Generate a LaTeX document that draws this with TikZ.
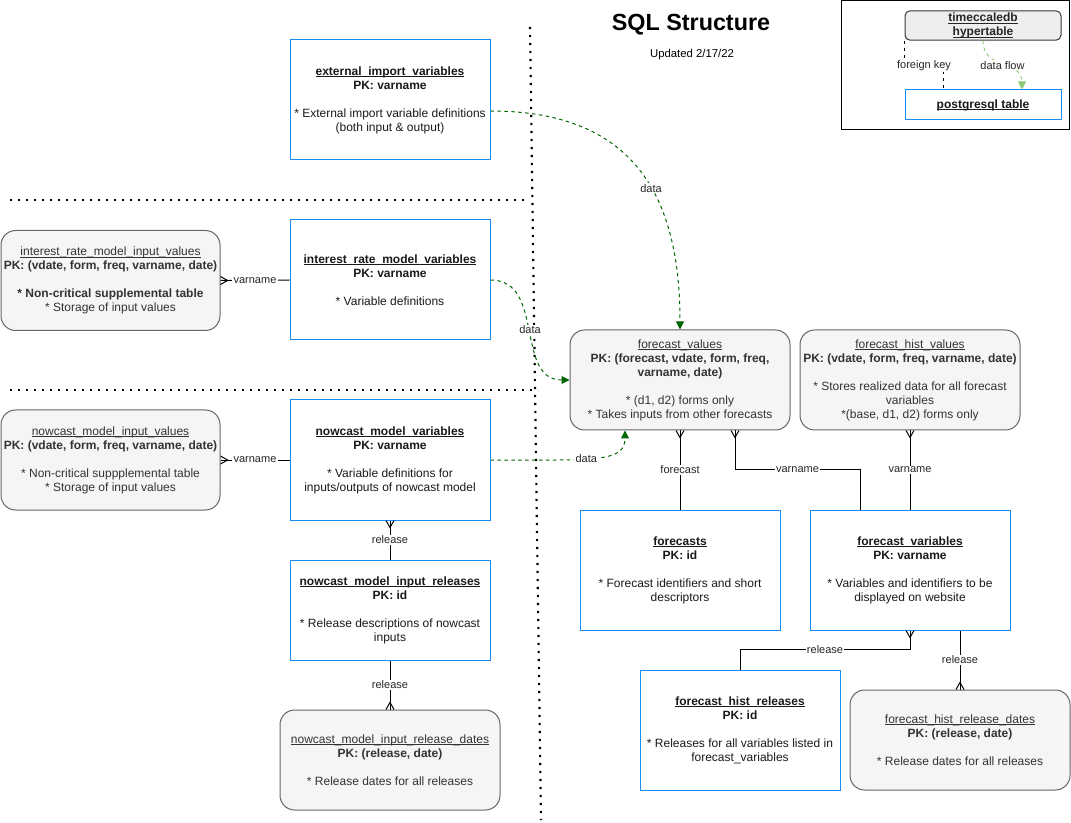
\documentclass[tikz,border=0pt]{standalone}
\usepackage{fontspec}
\setmainfont{Liberation Sans}
\usetikzlibrary{arrows.meta,calc}
\definecolor{boxblue}{HTML}{1A8CF2}
\definecolor{grayfill}{HTML}{F5F5F5}
\definecolor{grayline}{HTML}{666666}
\definecolor{graytext}{HTML}{333333}
\definecolor{dgreen}{HTML}{006600}
\definecolor{lgreen}{HTML}{8CC878}
\definecolor{hypfill}{HTML}{EEEEEE}
\definecolor{hypline}{HTML}{36393D}
\newsavebox\tnbox
\newcommand\tname[1]{\sbox\tnbox{#1}\rlap{\rule[-1.4pt]{\wd\tnbox}{0.55pt}}\usebox\tnbox}
\newcommand\fsz{\fontsize{9pt}{10.5pt}\selectfont}
\newcommand\crowdown[1]{\draw[conn] (#1) ++(-4,0) -- ++(4,7) -- ++(4,-7);}
\newcommand\crowup[1]{\draw[conn] (#1) ++(-4,0) -- ++(4,-7) -- ++(4,7);}
\newcommand\crowright[1]{\draw[conn] (#1) ++(0,-4) -- ++(7,4) -- ++(-7,4);}
\begin{document}
\begin{tikzpicture}[x=0.75pt,y=-0.75pt,
  bluebox/.style={draw=boxblue, line width=0.75pt, align=center, font=\fsz, text=black!90, inner sep=0pt, minimum width=150pt, minimum height=90pt},
  graybox/.style={draw=grayline, fill=grayfill, line width=0.75pt, rounded corners=11pt, align=center, font=\fsz, text=graytext, inner sep=0pt, minimum width=165pt, minimum height=75pt},
  conn/.style={draw=black, line width=0.75pt},
  lbl/.style={fill=white, font=\fontsize{8.25pt}{9pt}\selectfont, text=black!85, inner sep=1pt},
  data/.style={draw=dgreen, line width=0.75pt, dash pattern=on 2.6pt off 2.6pt, -{Triangle[length=6pt,width=6pt]}},
  lightdata/.style={draw=lgreen, line width=0.75pt, dash pattern=on 2.6pt off 2.6pt, -{Triangle[length=6pt,width=6pt]}},
  fkey/.style={draw=black, line width=0.75pt, dash pattern=on 2.6pt off 2.6pt},
  dots/.style={draw=black, line width=1.6pt, dash pattern=on 1.6pt off 4.4pt}
]
\useasboundingbox (0,0) rectangle (1071,823);

% separators
\draw[dots] (530,27) -- (541,820);
\draw[dots] (10,200) -- (525,200);
\draw[dots] (10,390) -- (538,390);

% title
\node (title) at (691,25) {\fontsize{17.5pt}{20pt}\selectfont\bfseries SQL Structure};
\node (upd) at (692,55) {\fontsize{8.5pt}{10pt}\selectfont Updated 2/17/22};

% legend
\node[draw, line width=0.75pt, minimum width=171pt, minimum height=96.75pt, inner sep=0pt] (legend) at (955,65.5) {};
\node[draw=hypline, fill=hypfill, line width=0.75pt, rounded corners=3.75pt, minimum width=117pt, minimum height=22pt, inner sep=0pt, align=center, font=\fsz, text=black!85] (hyp) at (983,25.5) {\tname{\textbf{timeccaledb}}\\\tname{\textbf{hypertable}}};
\node[bluebox, minimum width=117pt, minimum height=22.5pt] (pg) at (983,105) {\tname{\textbf{postgresql table}}};
\draw[fkey] (hyp.south west) -- ++(0,25) -| node[lbl, pos=0.25]{foreign key} ($(pg.north west)+(39,0)$);
\draw[lightdata] (hyp.south) .. controls +(0,30) and +(0,-30) .. node[lbl, pos=0.5]{data flow} ($(pg.north)+(39,0)$);

% left column
\node[bluebox] (ext) at (390,100) {\tname{\textbf{external\_import\_variables}}\\\textbf{PK: varname}\\[10.5pt]* External import variable definitions\\(both input \& output)};
\node[bluebox] (irv) at (390,280) {\tname{\textbf{interest\_rate\_model\_variables}}\\\textbf{PK: varname}\\[10.5pt]* Variable definitions};
\node[bluebox] (ncv) at (390,460) {\tname{\textbf{nowcast\_model\_variables}}\\\textbf{PK: varname}\\[10.5pt]* Variable definitions for\\inputs/outputs of nowcast model};
\node[bluebox, minimum height=75pt] (ncr) at (390,610) {\tname{\textbf{nowcast\_model\_input\_releases}}\\\textbf{PK: id}\\[10.5pt]* Release descriptions of nowcast\\inputs};
\node[graybox] (ncrd) at (390,760) {\tname{nowcast\_model\_input\_release\_dates}\\\textbf{PK: (release, date)}\\[10.5pt]* Release dates for all releases};
\node[graybox, minimum width=164.25pt] (irin) at (110.5,280.5) {\tname{interest\_rate\_model\_input\_values}\\\textbf{PK: (vdate, form, freq, varname, date)}\\[10.5pt]\textbf{* Non-critical supplemental table}\\* Storage of input values};
\node[graybox, minimum width=164.25pt] (ncin) at (110.5,460) {\tname{nowcast\_model\_input\_values}\\\textbf{PK: (vdate, form, freq, varname, date)}\\[10.5pt]* Non-critical suppplemental table\\* Storage of input values};

% right part
\node[graybox] (fv) at (680,380) {\tname{forecast\_values}\\\textbf{PK: (forecast, vdate, form, freq,}\\\textbf{varname, date)}\\[10.5pt]* (d1, d2) forms only\\* Takes inputs from other forecasts};
\node[graybox] (fhv) at (910,380) {\tname{forecast\_hist\_values}\\\textbf{PK: (vdate, form, freq, varname, date)}\\[10.5pt]* Stores realized data for all forecast\\variables\\*(base, d1, d2) forms only};
\node[bluebox] (fc) at (680,570) {\tname{\textbf{forecasts}}\\\textbf{PK: id}\\[10.5pt]* Forecast identifiers and short\\descriptors};
\node[bluebox] (fvar) at (910,570) {\tname{\textbf{forecast\_variables}}\\\textbf{PK: varname}\\[10.5pt]* Variables and identifiers to be\\displayed on website};
\node[bluebox] (fhr) at (740,730) {\tname{\textbf{forecast\_hist\_releases}}\\\textbf{PK: id}\\[10.5pt]* Releases for all variables listed in\\forecast\_variables};
\node[graybox] (fhrd) at (960,740) {\tname{forecast\_hist\_release\_dates}\\\textbf{PK: (release, date)}\\[10.5pt]* Release dates for all releases};

% data flows
\draw[data] ($(ext.east)+(0,11)$) .. controls +(150,0) and +(0,-125) .. node[lbl, pos=0.56]{data} (fv.north);
\draw[data] (irv.east) .. controls +(55,0) and +(-55,0) .. node[lbl, pos=0.5]{data} (fv.west);
\draw[data] (ncv.east) .. controls +(105,0) and +(0,32) .. node[lbl, pos=0.42]{data} ($(fv.south)+(-55,0)$);

% relations
\draw[conn] (irv.west) -- node[lbl]{varname} (irin.east);
\crowright{irin.east}
\draw[conn] (ncv.west) -- node[lbl]{varname} (ncin.east);
\crowright{ncin.east}
\draw[conn] (ncv.south) -- node[lbl]{release} (ncr.north);
\crowdown{ncv.south}
\draw[conn] (ncr.south) -- node[lbl]{release} (ncrd.north);
\crowup{ncrd.north}
\draw[conn] (fc.north) -- node[lbl]{forecast} (fv.south);
\crowdown{fv.south}
\coordinate (fvA) at ($(fvar.north)+(-50,0)$);
\coordinate (fvB) at ($(fv.south)+(55,0)$);
\draw[conn] (fvA) -- ++(0,-40) -| node[lbl, pos=0.25]{varname} (fvB);
\crowdown{fvB}
\draw[conn] (fvar.north) -- node[lbl]{varname} (fhv.south);
\crowdown{fhv.south}
\draw[conn] (fhr.north) -- ++(0,-20) -| node[lbl, pos=0.25]{release} (fvar.south);
\crowdown{fvar.south}
\coordinate (fvC) at ($(fvar.south)+(50,0)$);
\draw[conn] (fvC) -- node[lbl]{release} (fhrd.north);
\crowup{fhrd.north}
\end{tikzpicture}
\end{document}
